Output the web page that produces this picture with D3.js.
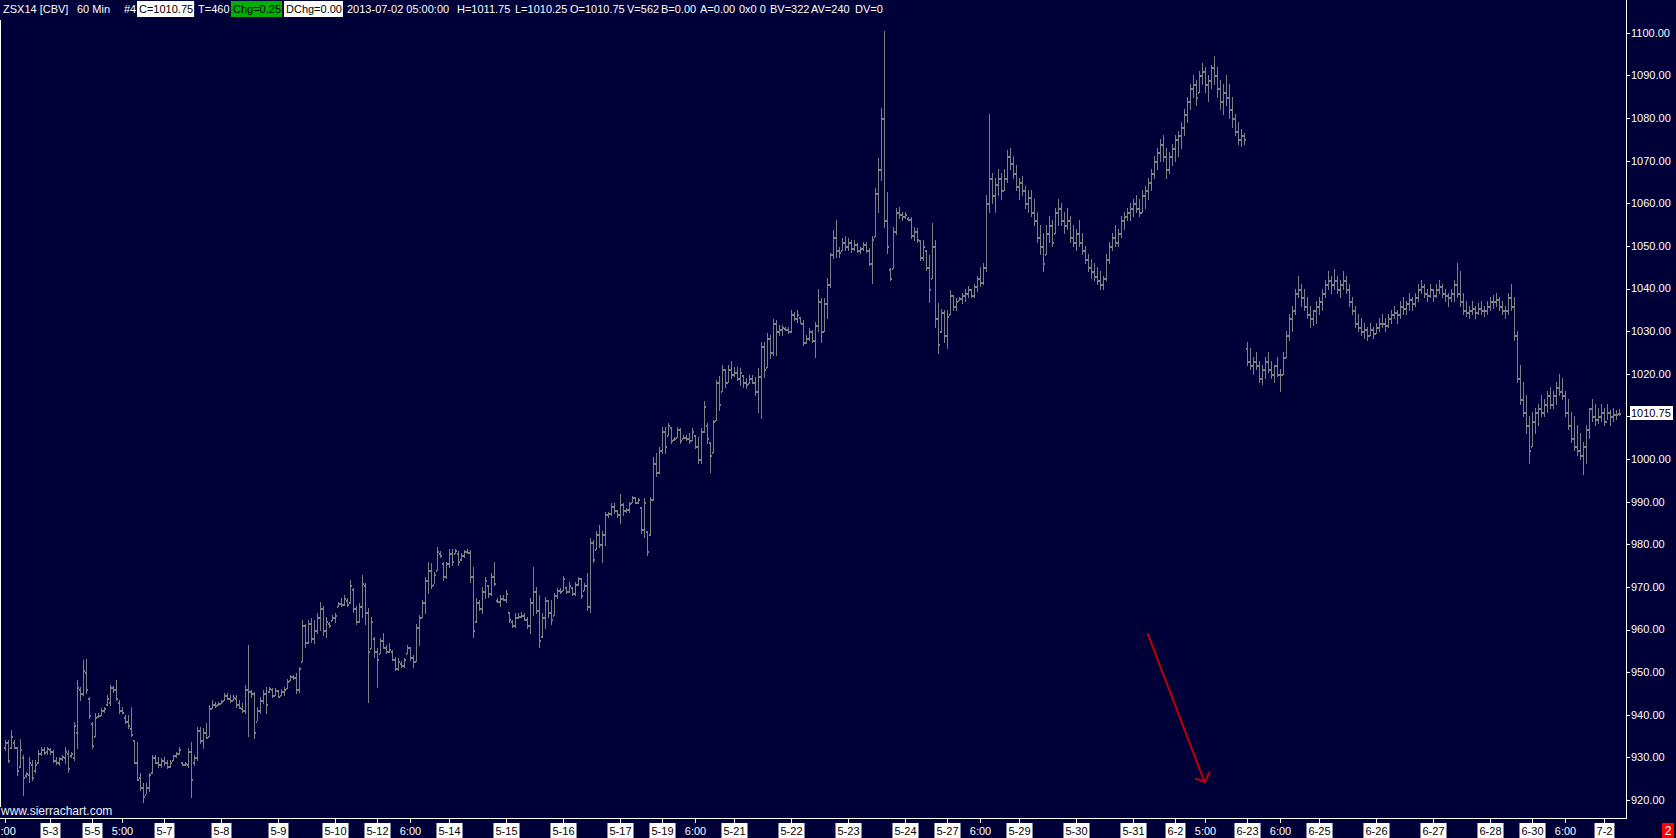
<!DOCTYPE html>
<html><head><meta charset="utf-8">
<script src="https://cdn.jsdelivr.net/npm/d3@7"></script>
<style>
html,body{margin:0;padding:0;background:#000038;overflow:hidden;}
svg{display:block;}
text{font-family:"Liberation Sans",Arial,sans-serif;}
</style></head><body>
<svg id="c" width="1676" height="838"></svg>
<script>
// ---------- DATA ----------
const highs = [
934.1,934.1,936.4,934.1,932.5,934.2,930.6,926.6,930.2,929.4,
929.4,931.7,932.5,932.5,932.5,932.1,931.7,930.2,930.2,930.6,
932.5,931.7,931.3,938.4,948.2,946.6,952.8,953.0,944.2,938.4,
940.3,940.3,941.5,941.9,944.6,947.0,946.7,948.2,943.5,941.9,
939.9,939.9,941.9,934.1,933.7,926.3,923.9,923.9,926.3,930.6,
930.6,930.2,929.8,930.2,929.4,929.4,930.6,931.3,932.5,929.0,
929.0,932.1,933.7,930.6,937.2,937.2,936.8,938.0,942.3,943.5,
943.1,943.1,943.5,945.0,945.0,944.6,944.6,944.6,943.5,942.7,
947.0,956.4,945.8,945.4,941.9,944.2,945.8,946.6,946.6,946.2,
946.2,945.8,946.0,946.4,948.5,949.3,949.3,949.7,951.3,962.2,
961.4,962.2,962.6,962.2,963.8,966.5,965.4,963.0,961.8,963.4,
963.8,966.5,967.3,968.1,967.3,971.6,969.7,965.4,966.1,972.8,
970.8,965.0,963.0,958.3,955.6,957.9,959.1,956.4,956.8,955.2,
953.6,953.2,952.5,953.2,956.4,956.0,954.0,961.4,963.4,966.9,
972.4,975.9,975.5,973.6,979.4,978.3,975.9,975.9,979.0,979.0,
979.0,978.3,977.9,978.7,979.0,978.7,974.7,967.3,966.9,970.0,
972.4,970.4,973.2,975.9,967.3,968.1,968.1,969.3,964.2,962.2,
963.8,963.8,964.2,963.8,963.0,967.3,974.7,970.0,968.1,963.8,
967.7,966.9,966.9,968.5,969.7,969.7,972.6,970.0,971.2,970.0,
971.2,972.4,972.0,970.8,973.2,981.4,981.0,983.0,984.5,983.0,
987.6,987.6,989.6,989.6,988.0,991.9,989.6,988.4,990.0,991.3,
991.2,990.8,988.8,990.8,983.0,991.2,1000.5,1001.3,1002.9,1007.6,
1007.6,1008.4,1007.6,1005.2,1007.6,1007.2,1005.6,1005.6,1006.0,1007.2,
1005.6,1005.2,1007.2,1013.5,1008.4,1004.1,1009.2,1018.5,1019.5,1022.0,
1021.0,1022.0,1023.0,1021.5,1021.7,1021.3,1019.7,1018.9,1019.7,1019.7,
1019.3,1021.3,1027.5,1027.5,1029.5,1029.1,1032.8,1032.6,1031.4,1031.4,
1031.0,1031.0,1034.9,1034.5,1034.9,1033.4,1032.6,1029.1,1030.7,1030.2,
1032.2,1039.8,1037.7,1037.7,1042.4,1048.3,1053.7,1056.1,1049.8,1051.8,
1052.2,1051.8,1051.4,1051.4,1050.6,1049.8,1051.0,1051.0,1049.4,1052.2,
1063.5,1070.5,1082.3,1100.3,1062.7,1044.7,1054.5,1058.8,1059.2,1058.0,
1058.0,1056.8,1056.8,1054.5,1054.1,1051.4,1051.4,1049.0,1047.9,1055.3,
1051.4,1036.5,1035.3,1034.9,1034.9,1039.6,1038.5,1037.7,1038.1,
1039,1040,1040.5,1040,1041,1043,1045,1046,1062,1081,
1067,1066,1068,1067,1068,1072.5,1073,1071,1069,1066,
1066.5,1064,1063,1063,1061,1058,1055,1053,1055,1057,
1056,1059,1061,1060,1058,1059,1057,1055,1054,1056,
1053,1050,1048,1047,1046,1045,1044,1043,1048,1051,
1053,1055,1054,1057,1058,1059,1060,1061,1062,1061,
1063,1064,1066,1068,1071,1073,1075,1076,1073,1072,
1074,1076,1077,1079,1082,1085,1088,1090,1089,1091,
1093,1092,1090,1092.5,1094.5,1092,1089,1088,1090,1088,
1085,1081,1079,1077.5,1076.5,1027.5,1026,1024,1025,1023,
1022,1024,1025,1023,1022,1024,1021,1025,1030,1034,
1036,1040,1043,1041,1040,1038,1036,1035,1037,1038,
1040,1042,1044,1043,1044.5,1043,1042,1044,1043,1041,
1038,1036,1034,1033,1032,1031,1032,1031,1032,1033,
1034,1033,1034,1035,1036,1035,1037,1038,1037,1039,
1038,1039,1041,1042,1041,1040,1041,1040,1041,1042,
1041,1040,1039,1040,1042,1046,1044,1039,1037,1036,
1037,1036,1036.5,1037,1036,1037,1038,1038.5,1039,1038,
1037,1036,1039,1041,1038,1030,1022,1018,1015,1010,
1011,1012,1013,1015,1014,1016,1017,1016,1018,1020,
1019,1016,1014,1011,1010,1008,1006,1004,1008,1012,
1014,1013,1012,1013,1012,1013,1011.5,1012,1011.5,1011.75
];
const lows = [
931.7,928.8,932.1,932.1,925.9,927.8,921.2,925.5,924.3,924.7,
926.6,928.6,930.6,930.8,930.9,930.9,929.0,928.4,928.2,929.4,
928.6,926.6,930.2,929.4,932.1,943.5,944.6,945.0,939.2,932.1,
934.9,939.5,939.9,940.7,942.3,942.3,945.4,943.5,940.3,940.3,
938.0,936.8,934.9,928.6,924.7,922.3,919.6,921.6,922.0,926.3,
928.6,927.8,927.8,928.2,927.4,927.8,929.4,930.2,930.9,928.2,
928.2,927.8,920.8,928.2,929.4,933.3,932.1,934.5,934.9,941.5,
941.9,942.3,942.7,943.5,943.8,943.1,943.5,941.9,941.5,940.7,
940.3,934.9,944.2,934.5,938.8,940.3,942.7,940.3,945.4,944.2,
944.6,944.2,944.6,944.6,946.2,948.1,948.5,945.0,945.4,952.5,
956.0,956.8,957.1,956.8,959.1,959.9,958.7,958.3,960.7,962.2,
961.8,965.4,965.4,965.8,965.4,966.1,964.2,961.4,961.8,963.0,
961.4,943.1,955.6,953.6,946.6,954.4,955.6,954.4,954.8,952.8,
950.5,950.5,951.3,951.3,954.4,952.8,951.3,952.5,956.4,963.0,
963.8,968.5,969.7,970.8,974.0,977.1,971.6,972.0,974.7,975.1,
977.9,975.1,976.3,977.1,977.9,971.2,958.3,961.8,964.6,963.8,
967.3,967.7,968.1,970.4,966.5,965.4,966.9,966.5,961.8,960.7,
960.7,962.6,962.9,962.2,960.3,959.1,963.4,963.8,956.0,958.3,
960.3,963.0,961.4,963.4,967.3,968.5,969.3,968.5,968.9,968.1,
968.1,970.4,967.3,969.3,964.6,964.2,975.9,979.0,979.4,975.9,
979.8,986.5,986.9,987.3,986.5,984.9,986.9,987.6,987.6,990.0,
989.6,989.6,982.6,981.8,977.5,982.2,990.4,995.9,996.6,1001.3,
1001.3,1005.6,1003.7,1004.5,1005.2,1003.7,1004.9,1004.5,1003.7,1004.5,
1002.5,999.0,999.0,1006.4,1003.7,997.0,1001.7,1009.2,1011.5,1016.0,
1017.0,1018.0,1019.0,1019.5,1018.5,1017.4,1017.0,1016.6,1017.8,1017.8,
1015.0,1011.1,1009.6,1019.3,1021.7,1023.6,1024.4,1024.4,1029.1,1029.1,
1030.2,1029.5,1029.8,1032.6,1032.2,1031.8,1026.7,1027.1,1027.9,1027.5,
1024.0,1030.0,1027.5,1030.0,1033.0,1040.4,1047.1,1047.5,1047.5,1049.0,
1049.0,1049.0,1048.6,1049.0,1048.6,1048.3,1049.0,1048.6,1045.5,1041.2,
1052.2,1058.0,1065.5,1054.5,1048.3,1042.0,1044.7,1052.9,1056.5,1056.0,
1056.5,1056.1,1051.8,1051.4,1051.0,1046.7,1046.7,1044.3,1036.9,1042.4,
1031.0,1024.8,1029.8,1027.5,1026.0,1034.1,1034.9,1034.9,1037.3,
1036.5,1037,1038,1038,1038,1039.5,1040.5,1041,1044,1058,
1060,1058,1062,1061,1063,1065,1068,1066,1063,1061,
1062,1059,1058,1057,1055,1051,1048,1044,1048,1051,
1050,1053,1055,1055,1053,1054,1051,1050,1049,1050,
1048,1046,1044,1042.5,1042,1041,1040,1040,1042,1046,
1049,1050,1050,1052,1054,1056,1056,1057,1058,1057,
1058,1059,1061,1063,1066,1068,1070,1070,1066,1067,
1069,1070,1071,1073,1076,1079,1082,1085,1083,1086,
1088,1086,1084,1087,1088,1085,1082,1081,1083,1080,
1078,1076,1074,1073.5,1074,1022,1021,1020,1021,1018,
1017.5,1019,1020.5,1019,1018,1019.5,1016,1020,1024,1028,
1030,1034,1038,1036,1035,1033,1031,1031.5,1032,1034,
1035,1038,1040,1039,1040,1039,1038,1040,1039,1036,
1034,1031,1030,1029,1028.5,1028,1029,1028.5,1029.5,1030,
1031,1030,1031,1032,1033,1032,1033,1034,1034,1035,
1035,1036,1037,1039,1038,1037,1038,1037,1038,1039,
1038,1037,1036,1037,1037,1038,1036,1034,1033.5,1033,
1034,1033,1034,1034,1033.5,1034,1035,1035.5,1036,1035,
1034,1033,1034,1035,1028,1018,1013,1010,1006,999,
1003,1006,1008,1010,1010,1011,1012,1012,1013,1015,
1014,1010,1007,1004,1002,1001,1000,996.5,999,1005,
1009,1008,1008.5,1009,1008,1009.5,1008,1009,1009.5,1010.25
];
const opens = [
932.5,933.5,932.5,933.5,932.5,928.0,930.0,925.75,926.0,928.5,
927.0,929.0,931.0,932.0,931.5,932.0,931.5,929.5,929.0,929.75,
930.0,931.0,930.5,930.0,936.0,946.0,945.0,950.0,944.0,938.0,
935.0,939.75,940.0,941.0,942.5,943.0,946.5,946.0,943.0,941.0,
939.5,938.5,937.0,934.0,929.0,925.5,923.0,921.5,923.0,926.5,
930.0,929.0,928.5,929.5,929.0,928.0,929.5,930.5,931.0,929.0,
928.5,928.5,931.5,929.0,930.0,936.5,934.0,936.0,935.0,941.5,
942.5,942.5,942.75,943.5,944.75,944.0,943.5,944.0,942.5,941.5,
941.0,946.0,945.5,945.0,938.5,941.0,943.5,945.0,945.5,946.0,
944.75,945.75,944.6,945.5,946.25,948.25,949.0,948.75,946.0,952.5,
961.0,957.0,961.5,958.0,960.0,963.0,965.0,960.0,961.5,962.25,
963.0,965.5,966.25,966.0,967.0,966.5,969.5,965.0,962.0,965.5,
970.5,964.0,955.6,958.0,955.0,954.5,957.5,956.0,955.0,955.0,
953.0,951.0,952.25,951.75,954.5,956.0,953.5,952.5,960.5,963.0,
966.5,971.5,974.0,970.75,974.0,978.0,975.5,972.5,975.5,978.0,
978.0,978.0,976.5,977.5,978.5,978.25,972.5,962.0,966.5,965.0,
969.0,970.4,968.5,972.5,967.0,966.75,967.5,967.25,964.0,962.0,
961.0,963.0,963.25,963.5,962.5,961.0,966.5,969.0,964.5,958.5,
963.0,966.9,964.0,963.5,968.0,969.25,969.3,970.0,969.0,970.0,
968.5,970.75,972.0,969.3,970.5,965.5,980.5,979.0,982.5,980.0,
982.5,987.0,987.25,989.0,988.0,987.0,989.5,988.0,988.25,990.0,
991.0,990.0,988.8,983.5,983.0,982.5,990.5,999.0,997.0,1002.0,
1006.5,1005.6,1007.6,1004.75,1005.25,1007.0,1005.0,1005.25,1005.0,1004.5,
1005.6,1003.0,1000.0,1006.5,1008.0,1004.0,1001.7,1009.2,1018.0,1016.0,
1021.0,1018.0,1021.0,1020.0,1020.5,1019.0,1019.7,1018.0,1017.8,1019.0,
1018.0,1016.0,1019.5,1026.5,1021.7,1028.5,1025.0,1032.0,1030.0,1030.5,
1030.75,1030.5,1030.0,1034.0,1033.0,1033.4,1032.0,1027.5,1028.5,1030.0,
1028.0,1031.5,1037.0,1030.0,1036.5,1041.0,1048.0,1052.0,1049.0,1049.0,
1051.0,1050.0,1051.0,1049.5,1050.5,1049.0,1049.5,1050.5,1049.0,1046.0,
1052.2,1062.5,1068.0,1080.0,1056.0,1044.5,1044.7,1053.5,1058.0,1057.5,
1057.0,1056.5,1056.25,1052.5,1053.5,1051.4,1047.5,1049.0,1045.0,1042.4,
1050.0,1033.0,1030.0,1034.5,1029.0,1034.1,1038.5,1036.0,1037.3,
1037.75,1038.5,1039,1040,1038.5,1040.5,1042.5,1041.5,1045,1060,
1066,1062,1064.5,1066,1063,1066,1071,1069.5,1067,1064,
1065,1063,1060,1061.5,1058,1056,1052,1050,1048,1053,
1055,1053,1058,1059,1056,1055,1056,1052,1051,1053,
1051,1049,1047,1045,1044,1043,1042,1041,1042.5,1047,
1050,1052,1051,1053,1056,1057,1058,1059,1060,1059,
1058,1062,1063,1065,1067,1070,1072,1074,1071,1068,
1071,1073,1075,1076,1078,1081,1084,1087,1088,1086,
1090,1091,1088,1089,1092,1090,1087,1084,1086,1085,
1082,1080,1077,1075,1076,1026,1023,1022,1023,1022,
1019,1021,1023,1021,1020,1022,1020,1020,1024,1029,
1033,1035,1039,1040,1038,1036,1034,1033,1035,1036,
1037,1039,1041,1042,1041,1042,1040,1041,1042,1040,
1037,1035,1032,1031,1030,1030.5,1029,1030.5,1029.5,1031,
1032,1032,1031.5,1033,1034,1034.5,1034,1036,1035.5,1036.5,
1037.5,1036.5,1038,1040,1040.5,1039,1038.5,1040,1038.5,1040,
1040.5,1039,1038.5,1038,1039,1041,1039,1037,1035,1034.5,
1035,1035.5,1034.5,1035.5,1035,1035,1036,1037,1037,1037.5,
1036,1035,1035,1038,1036,1029,1019,1014,1011,1008,
1003,1009,1011,1012,1011,1013,1015,1013,1015,1017,
1016,1015,1011,1008,1005,1003,1002,1001,1003,1007,
1012,1010,1009.5,1010,1011,1009,1011,1010,1010.5,1010.75
];
const closes = [
933.5,929.5,935.0,932.5,927.0,932.0,925.5,926.25,929.0,925.5,
928.5,931.0,932.0,931.25,932.25,931.5,929.5,929.0,929.75,930.25,
931.5,927.5,931.0,937.5,946.5,945.0,950.5,946.0,940.0,933.0,
939.5,940.0,941.0,941.5,944.0,946.5,946.0,944.0,941.0,940.75,
938.5,937.5,935.5,929.0,925.0,923.0,921.0,923.0,926.0,930.0,
929.0,928.5,929.5,929.0,928.0,929.0,930.5,931.0,932.0,928.5,
928.75,931.5,925.0,930.0,936.5,934.0,936.0,934.75,941.5,942.5,
942.25,942.75,943.25,944.75,944.0,943.5,944.25,942.5,941.75,941.0,
946.0,945.5,945.0,936.0,941.0,943.5,945.0,942.5,946.25,944.75,
945.75,944.5,945.5,946.0,948.0,949.0,948.75,946.0,951.0,961.0,
957.0,961.5,958.0,960.0,963.0,965.0,960.0,962.0,961.0,963.0,
963.5,966.25,966.0,967.5,966.0,970.5,965.0,962.0,965.5,971.0,
964.0,955.0,962.0,955.0,953.0,957.5,956.0,955.0,955.5,953.0,
951.0,952.5,951.75,953.0,956.0,953.5,952.5,960.5,963.0,966.5,
971.5,974.0,970.5,973.0,978.5,977.5,972.5,975.5,978.0,976.0,
978.75,976.0,977.5,978.5,978.25,972.5,960.0,966.5,965.0,969.0,
971.5,968.5,972.5,971.0,966.75,967.5,967.25,968.5,962.5,961.0,
963.0,963.25,963.5,962.5,961.0,966.5,969.0,964.5,957.5,963.0,
967.0,964.0,962.5,968.0,969.25,969.0,972.0,969.0,970.5,968.5,
970.75,972.0,968.0,970.5,965.5,980.5,976.5,982.5,980.0,982.5,
987.0,987.25,989.0,988.0,987.0,989.5,988.0,988.25,989.75,991.0,
990.0,990.5,983.5,990.0,978.5,990.5,999.0,997.0,1002.0,1006.5,
1003.0,1008.0,1004.5,1005.0,1007.0,1004.5,1005.25,1005.0,1004.5,1006.5,
1003.0,1000.0,1006.5,1012.5,1005.0,1001.0,1009.0,1018.0,1013.0,1021.0,
1018.0,1021.0,1020.0,1020.5,1019.0,1020.5,1018.0,1017.5,1019.0,1018.0,
1016.0,1019.5,1026.5,1021.0,1028.5,1025.0,1032.0,1030.0,1030.5,1031.0,
1030.5,1030.0,1034.0,1033.0,1034.0,1032.0,1027.5,1028.5,1030.0,1028.0,
1031.5,1037.0,1030.0,1036.5,1041.0,1048.0,1052.0,1049.0,1048.5,1051.0,
1050.0,1051.0,1049.5,1050.5,1049.0,1049.5,1050.5,1049.0,1046.0,1051.5,
1062.5,1068.0,1080.0,1056.0,1050.0,1042.5,1053.5,1058.0,1057.5,1057.0,
1057.5,1056.25,1052.5,1053.5,1051.5,1047.5,1050.0,1045.0,1040.0,1050.0,
1033.0,1027.0,1034.5,1029.0,1033.5,1038.5,1036.0,1037.0,1037.75,
1038.5,1039,1040,1038.5,1040.5,1042.5,1041.5,1045,1060,1066,
1062,1064.5,1066,1063,1066,1071,1069.5,1067,1064,1065,
1063,1060,1061.5,1058,1056,1052,1050,1046,1053,1055,
1051,1058,1059,1056,1055,1056,1052,1051,1053,1051,
1049,1047,1045,1044,1043,1042,1041,1042.5,1047,1050,
1052,1051,1053,1056,1057,1058,1059,1060,1059,1058,
1062,1063,1065,1067,1070,1072,1074,1071,1068,1071,
1073,1075,1076,1078,1081,1084,1087,1088,1085,1090,
1091,1088,1089,1092,1090,1087,1084,1086,1085,1082,
1080,1077,1075,1076,1075,1023,1022,1023,1022,1019,
1021,1023,1021,1020,1022,1020,1020,1024,1029,1033,
1035,1039,1040,1038,1036,1034,1033,1035,1036,1037,
1039,1041,1042,1041,1042,1040,1041,1042,1040,1037,
1035,1032,1031,1030,1030.5,1029,1030.5,1029.5,1031,1032,
1032,1031.5,1033,1034,1034.5,1034,1036,1035.5,1036.5,1037.5,
1036.5,1038,1040,1040.5,1039,1038.5,1040,1038.5,1040,1040.5,
1039,1038.5,1038,1039,1041,1039,1037,1035,1034.5,1035,
1035.5,1034.5,1035.5,1035,1035,1036,1037,1037,1037.5,1036,
1035,1035,1038,1036,1029,1019,1014,1011,1008,1002,
1009,1011,1012,1011,1013,1015,1013,1015,1017,1016,
1015,1011,1008,1005,1003,1002,1001,1003,1007,1012,
1010,1009.5,1010,1011,1009,1011,1010,1010.5,1010.5,1010.75
];
const priceTicks = [920,930,940,950,960,970,980,990,1000,1010,1020,1030,1040,1050,1060,1070,1080,1090,1100];
const dateLabels = [":00","5-3","5-5","5:00","5-7","5-8","5-9","5-10","5-12","6:00","5-14","5-15","5-16","5-17","5-19","6:00","5-21","5-22","5-23","5-24","5-27","6:00","5-29","5-30","5-31","6-2","5:00","6-23","6:00","6-25","6-26","6-27","6-28","6-30","6:00","7-2"];
const dateLabelBars = [0,15,29,39,53,72,91,110,124,135,148,167,186,205,219,230,243,262,281,300,314,325,338,357,376,390,400,414,425,438,457,476,495,509,520,533];
const headerTexts = ["ZSX14 [CBV]","60 Min","#4","C=1010.75","T=460","Chg=0.25","DChg=0.00","2013-07-02 05:00:00","H=1011.75","L=1010.25","O=1010.75","V=562","B=0.00","A=0.00","0x0 0","BV=322","AV=240","DV=0"];
const headerKinds = ["","","","white","","green","white","","","","","","","","","","",""];
const lastPrice = 1010.75;
const arrowFrom = {bar:380.8, price:958.9};
const arrowTo = {bar:399.7, price:924.2};
const arrowHeadA = {bar:396.8, price:925.0};
const arrowHeadB = {bar:401.4, price:926.5};

// ---------- LAYOUT ----------
const W = 1676, H = 838;
const plotRight = 1626.5, axisY = 818.5;
const headerX = [3,77,124,139,198,233,286,347,457,515,570,627,661,700,739,770,811,855];
const BG = "#000038", BAR = "#808080";

const svg = d3.select("#c");
svg.append("rect").attr("width",W).attr("height",H).attr("fill",BG);

const x = d3.scaleLinear().domain([0, highs.length-1]).range([5.5, 5.5 + 3*(highs.length-1)]);
const y = d3.scaleLinear().domain([920, 1100]).range([800, 32.75]);

const bars = highs.map((h,i)=>({i, h, l:lows[i], o:opens[i], c:closes[i]}));

const gb = svg.append("g").attr("shape-rendering","crispEdges");
gb.selectAll("line.hl").data(bars).join("line").attr("class","hl")
  .attr("x1",d=>x(d.i)).attr("x2",d=>x(d.i))
  .attr("y1",d=>Math.round(y(d.h))).attr("y2",d=>Math.round(y(d.l))+1)
  .attr("stroke",BAR).attr("stroke-width",1);
gb.selectAll("rect.op").data(bars).join("rect").attr("class","op")
  .attr("x",d=>x(d.i)-1.5).attr("width",1)
  .attr("y",d=>Math.round(y(d.o))).attr("height",2).attr("fill",BAR);
gb.selectAll("rect.cl").data(bars).join("rect").attr("class","cl")
  .attr("x",d=>x(d.i)+0.5).attr("width",1)
  .attr("y",d=>Math.round(y(d.c))).attr("height",2).attr("fill",BAR);

// frame lines
const frame = svg.append("g").attr("shape-rendering","crispEdges").attr("stroke","#ffffff").attr("stroke-width",1);
frame.append("line").attr("x1",plotRight).attr("x2",plotRight).attr("y1",0).attr("y2",axisY);
frame.append("line").attr("x1",0).attr("x2",plotRight).attr("y1",axisY).attr("y2",axisY);
frame.append("line").attr("x1",0.5).attr("x2",0.5).attr("y1",20).attr("y2",807);

// y axis (right)
const ya = svg.append("g");
ya.selectAll("line").data(priceTicks).join("line").attr("shape-rendering","crispEdges")
  .attr("x1",plotRight).attr("x2",plotRight+3)
  .attr("y1",d=>Math.round(y(d))+0.5).attr("y2",d=>Math.round(y(d))+0.5)
  .attr("stroke","#fff");
ya.selectAll("text").data(priceTicks).join("text")
  .attr("x",1631).attr("y",d=>y(d)).attr("dy","0.36em")
  .attr("fill","#fff").attr("font-size","11px").text(d=>d3.format(".2f")(d));

// last price label
const lp = svg.append("g");
lp.append("rect").attr("x",1630).attr("y",Math.round(y(lastPrice))-7).attr("width",43).attr("height",14).attr("fill","#fff");
lp.append("text").attr("x",1631).attr("y",y(lastPrice)).attr("dy","0.36em").attr("fill","#000").attr("font-size","11px").text(d3.format(".2f")(lastPrice));

// x axis labels
const xa = svg.append("g");
dateLabels.forEach((lab,k)=>{
  const cx = x(dateLabelBars[k]);
  xa.append("line").attr("shape-rendering","crispEdges").attr("x1",cx).attr("x2",cx).attr("y1",axisY).attr("y2",axisY+4).attr("stroke","#fff");
  const boxed = lab.indexOf("-")>=0;
  const t = xa.append("text").attr("y",835).attr("font-size","11px").attr("fill", boxed?"#000":"#fff").text(lab);
  const w = t.node().getComputedTextLength();
  let tx = cx - w/2; if (tx < 0.5) tx = 0.5;
  t.attr("x", tx);
  if (boxed) xa.insert("rect", () => t.node()).attr("x",tx-2).attr("y",823).attr("width",w+4).attr("height",15).attr("fill","#fff");
});

// watermark
svg.append("text").attr("x",1).attr("y",815).attr("fill","#e8f0ff").attr("font-size","12px").text("www.sierrachart.com");

// red 2 box
svg.append("rect").attr("x",1662).attr("y",823).attr("width",12).attr("height",15).attr("fill","#ff0000");
svg.append("text").attr("x",1668).attr("y",835).attr("text-anchor","middle").attr("fill","#fff").attr("font-size","12px").text("2");

// header
const hg = svg.append("g");
headerTexts.forEach((s,k)=>{
  const t = hg.append("text").attr("x",headerX[k]).attr("y",13).attr("font-size","11px")
    .attr("fill", headerKinds[k] ? "#000" : "#fff").text(s);
  if (headerKinds[k]) {
    const w = t.node().getComputedTextLength();
    hg.insert("rect", () => t.node()).attr("x",headerX[k]-2).attr("y",1).attr("width",w+3).attr("height",16)
      .attr("fill", headerKinds[k]==="green" ? "#00b000" : "#fff");
  }
});

// red arrow annotation
const ag = svg.append("g").attr("stroke","#c00000").attr("stroke-width",2).attr("fill","none").attr("stroke-linecap","round");
ag.append("line").attr("x1",x(arrowFrom.bar)).attr("y1",y(arrowFrom.price)).attr("x2",x(arrowTo.bar)).attr("y2",y(arrowTo.price));
ag.append("polyline").attr("points",[[x(arrowHeadA.bar),y(arrowHeadA.price)],[x(arrowTo.bar),y(arrowTo.price)],[x(arrowHeadB.bar),y(arrowHeadB.price)]].map(p=>p.join(",")).join(" "));
</script>
</body></html>
